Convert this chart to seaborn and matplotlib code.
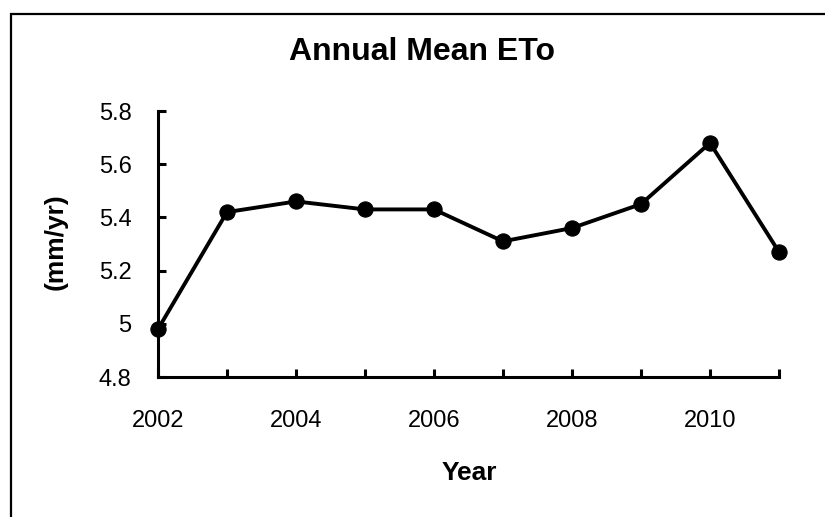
import matplotlib
matplotlib.use("Agg")
import matplotlib.pyplot as plt
import matplotlib.patches as mpatches
import seaborn as sns
import pandas as pd

# Annual mean reference evapotranspiration
years = [2002, 2003, 2004, 2005, 2006, 2007, 2008, 2009, 2010, 2011]
eto = [4.98, 5.42, 5.46, 5.43, 5.43, 5.31, 5.36, 5.45, 5.68, 5.27]
y_ticks = [4.8, 5.0, 5.2, 5.4, 5.6, 5.8]
y_tick_labels = ["4.8", "5", "5.2", "5.4", "5.6", "5.8"]
x_tick_labels = [str(y) if y % 2 == 0 else "" for y in years]

sns.set_theme(style="white")
plt.rcParams["font.family"] = ["Liberation Sans", "DejaVu Sans"]
plt.rcParams["text.color"] = "black"
plt.rcParams["axes.labelcolor"] = "black"

df = pd.DataFrame({"Year": years, "ETo": eto})

fig = plt.figure(figsize=(8.25, 5.17), dpi=100)
fig.patch.set_facecolor("white")
ax = fig.add_axes([158 / 825, 1 - 377 / 517, (779 - 158) / 825, (377 - 111) / 517])

sns.lineplot(data=df, x="Year", y="ETo", ax=ax, color="black", linewidth=2.8,
             marker="o", markersize=11, markeredgecolor="black",
             markerfacecolor="black", clip_on=False, zorder=5)

ax.set_xlim(2002, 2011)
ax.set_ylim(4.8, 5.8)
ax.set_xticks(years)
ax.set_xticklabels(x_tick_labels, fontsize=17)
ax.set_yticks(y_ticks)
ax.set_yticklabels(y_tick_labels, fontsize=17)

for side in ["top", "right"]:
    ax.spines[side].set_visible(False)
for side in ["left", "bottom"]:
    ax.spines[side].set_color("black")
    ax.spines[side].set_linewidth(2.2)

ax.tick_params(axis="both", direction="in", length=6, width=2.2, colors="black",
               labelcolor="black", bottom=True, left=True, top=False, right=False)
ax.tick_params(axis="x", pad=24)
ax.tick_params(axis="y", pad=19)
ax.grid(False)

ax.set_xlabel("")
ax.set_ylabel("")
fig.text(469 / 825, 1 - 473 / 517, "Year", ha="center", va="center",
         fontsize=19, fontweight="bold", color="black")
fig.text(56 / 825, 1 - 242 / 517, "(mm/yr)", ha="center", va="center",
         rotation=90, fontsize=19, fontweight="bold", color="black")
fig.text(422 / 825, 1 - 52 / 517, "Annual Mean ETo", ha="center", va="center",
         fontsize=23, fontweight="bold", color="black")

# chart-area frame
frame = mpatches.Rectangle((10.5 / 825, -0.2), 1.2, 1.2 - 13.5 / 517,
                           transform=fig.transFigure, fill=False,
                           edgecolor="black", linewidth=1.6, clip_on=False)
fig.patches.append(frame)

fig.savefig("out.png", dpi=100, facecolor="white")
